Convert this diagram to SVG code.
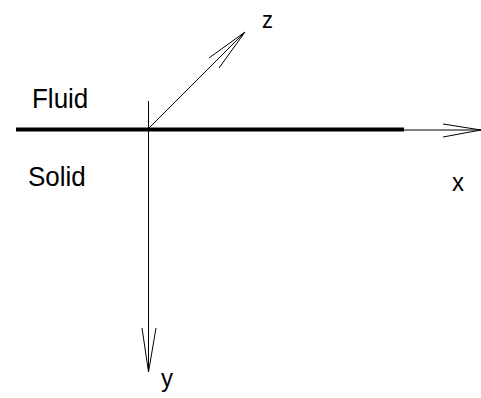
<svg xmlns="http://www.w3.org/2000/svg" width="481" height="398" viewBox="0 0 481 398">
<style>
.ax{stroke:#000;stroke-width:1;fill:none}
.t{font-family:"Liberation Sans",Arial,sans-serif;font-size:26px;fill:#000}
</style>
<rect width="481" height="398" fill="#fff"/>
<g id="connectors">
<line id="interface" x1="16" y1="129.5" x2="404" y2="129.5" stroke="#000" stroke-width="4"/>
<g id="x-axis"><line class="ax" x1="148" y1="130" x2="481" y2="130"/><polyline class="ax" points="443,124 481,130 443,137"/></g>
<g id="y-axis"><line class="ax" x1="148.5" y1="101" x2="148.5" y2="372" stroke="#555"/><polyline class="ax" points="142,328 148.5,372 156,328"/></g>
<g id="z-axis"><line class="ax" x1="149" y1="128" x2="245" y2="32"/><polyline class="ax" points="209,58 245,32 219,68"/></g>
</g>
<g id="labels">
<text class="t" transform="translate(32,108) scale(1,1.08)">Fluid</text>
<text class="t" transform="translate(28,186) scale(1,1.08)">Solid</text>
<text class="t" transform="translate(452,191) scale(1,1.1)" style="font-size:24px">x</text>
<text class="t" transform="translate(262,28) scale(1,1.1)" style="font-size:22px">z</text>
<text class="t" transform="translate(161,387) scale(1,1.1)" style="font-size:24px">y</text>
</g>
</svg>
